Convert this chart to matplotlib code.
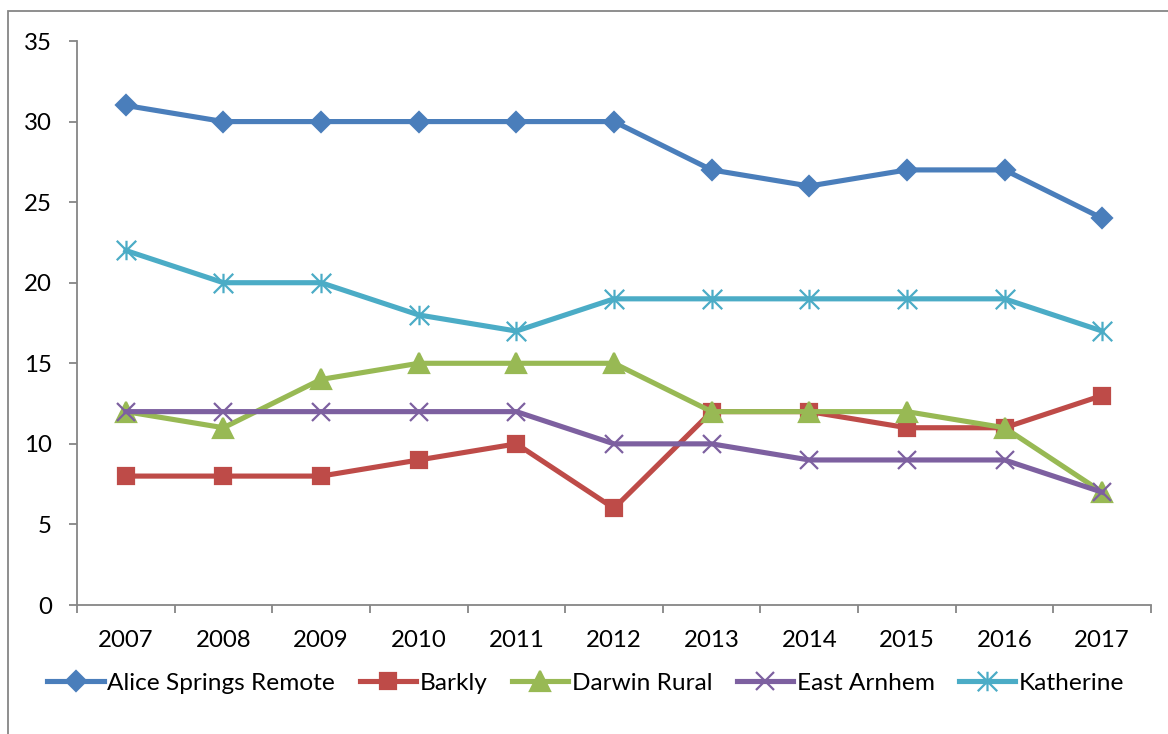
import numpy as np
import matplotlib.pyplot as plt
from matplotlib.path import Path
from matplotlib.patches import Rectangle

# Data
years = ["2007", "2008", "2009", "2010", "2011", "2012", "2013", "2014", "2015", "2016", "2017"]
alice_springs = [31, 30, 30, 30, 30, 30, 27, 26, 27, 27, 24]
barkly = [8, 8, 8, 9, 10, 6, 12, 12, 11, 11, 13]
darwin_rural = [12, 11, 14, 15, 15, 15, 12, 12, 12, 11, 7]
east_arnhem = [12, 12, 12, 12, 12, 10, 10, 9, 9, 9, 7]
katherine = [22, 20, 20, 18, 17, 19, 19, 19, 19, 19, 17]

plt.rcParams['font.family'] = ['Lato', 'DejaVu Sans']

# Excel-style asterisk marker: an x with a vertical bar through it
star = Path([(-1, -1), (1, 1), (-1, 1), (1, -1), (0, -1), (0, 1)],
            [Path.MOVETO, Path.LINETO, Path.MOVETO, Path.LINETO, Path.MOVETO, Path.LINETO])

series = [
    ("Alice Springs Remote", alice_springs, "#4A7EBB", "D", 10),
    ("Barkly", barkly, "#BE4B48", "s", 12),
    ("Darwin Rural", darwin_rural, "#98B954", "^", 14),
    ("East Arnhem", east_arnhem, "#7D60A0", "x", 13),
    ("Katherine", katherine, "#4BACC6", star, 14),
]

fig = plt.figure(figsize=(11.68, 7.34), dpi=100)
ax = fig.add_axes([77 / 1168, 1 - 605 / 734, (1151 - 77) / 1168, (605 - 41) / 734])

x = np.arange(len(years))
for name, vals, col, mk, ms in series:
    ax.plot(x, vals, color=col, lw=3.7, marker=mk, markersize=ms,
            markeredgewidth=1.6, markerfacecolor=col, markeredgecolor=col, label=name)

ax.set_xlim(-0.5, len(years) - 0.5)
ax.set_ylim(0, 35)
ax.set_yticks(np.arange(0, 36, 5))
ax.set_xticks(x)
ax.set_xticklabels(years)
ax.set_xticks(np.arange(-0.5, len(years), 1), minor=True)

for s in ["top", "right"]:
    ax.spines[s].set_visible(False)
for s in ["left", "bottom"]:
    ax.spines[s].set_color("#868686")
    ax.spines[s].set_linewidth(1.3)

ax.tick_params(axis="x", which="major", length=0, labelsize=17.3, pad=18)
ax.tick_params(axis="x", which="minor", length=6, width=1.3, color="#868686")
ax.tick_params(axis="y", length=6, width=1.3, color="#868686", labelsize=17.3, pad=12)

fig.legend(loc="center", bbox_to_anchor=(0.5017, 1 - 683 / 734), ncol=5, frameon=False,
           fontsize=17.6, handlelength=2.3, handletextpad=0.15, columnspacing=1.0,
           borderaxespad=0)

# outer chart frame (cut off on right and bottom like the reference)
fig.patches.append(Rectangle((8 / 1168, -0.1), 1.2, 1 - 11 / 734 + 0.1, transform=fig.transFigure,
                             fill=False, edgecolor="#868686", lw=1.3))

fig.savefig("out.png", dpi=100)
